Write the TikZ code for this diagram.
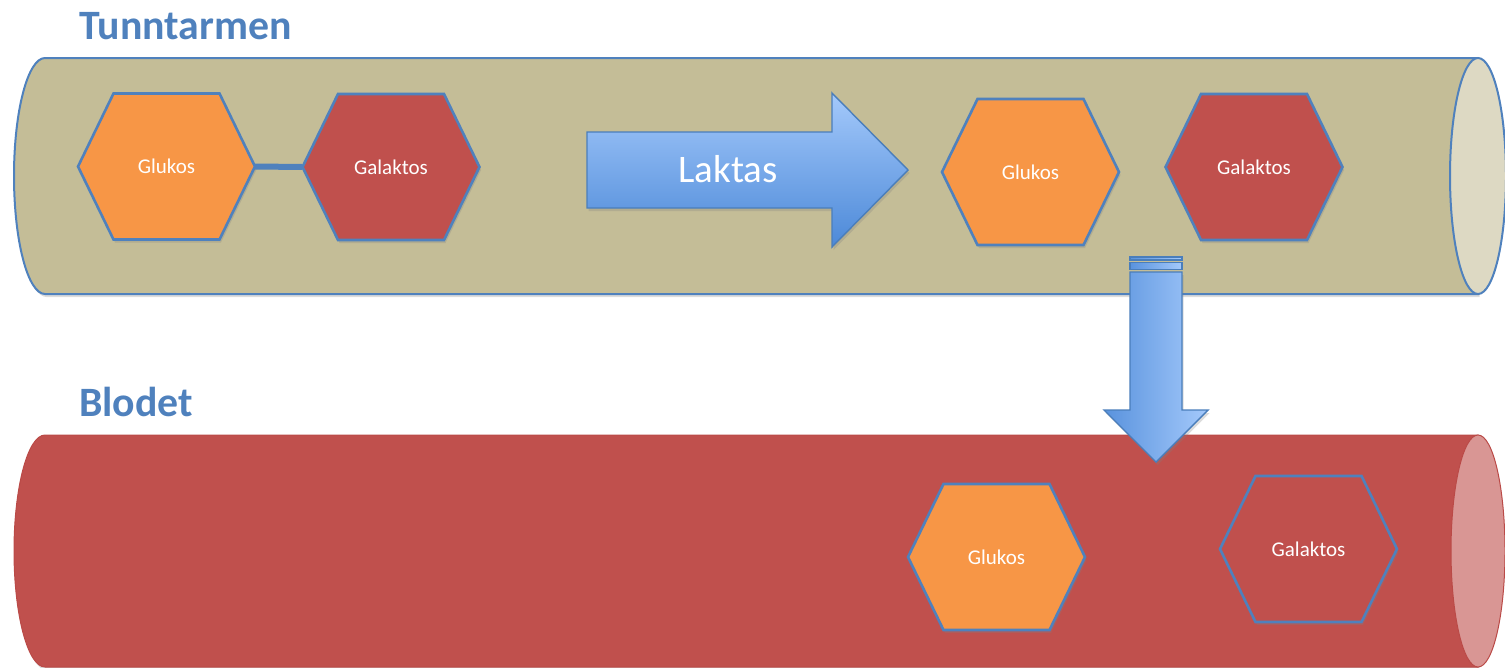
\documentclass[tikz,border=0pt]{standalone}
\usepackage{fontspec}
\setmainfont{Carlito}
\usetikzlibrary{shadows}

\definecolor{accent}{HTML}{4F81BD}
\definecolor{gutbody}{HTML}{C4BD97}
\definecolor{gutcap}{HTML}{DDD9C3}
\definecolor{bloodbody}{HTML}{C0504D}
\definecolor{bloodcap}{HTML}{D99694}
\definecolor{bloodedge}{HTML}{BA4A47}
\definecolor{sugarA}{HTML}{F79646}
\definecolor{arrowlight}{HTML}{A4C9FB}
\definecolor{arrowdark}{HTML}{4C89D8}
\definecolor{arrowedge}{HTML}{4A7EBB}

\tikzset{
  softshadow/.style={drop shadow={opacity=0.28, shadow xshift=1.5pt, shadow yshift=-3pt}},
  hexshape/.style={draw=accent, line width=2.6pt, line join=miter, softshadow},
  hexlabel/.style={shape=rectangle, minimum width=177pt, minimum height=146pt,
    inner sep=0pt, outer sep=0pt, text=white, font=\fontsize{21}{21}\selectfont},
  link/.style={draw=accent, line width=6pt},
  blockarrow/.style={draw=arrowedge, line width=1.4pt, line join=miter, softshadow},
  stripe/.style={draw=arrowedge, line width=1.1pt},
  heading/.style={anchor=base west, inner sep=0pt, text=accent,
    font=\fontsize{41.8}{42}\selectfont\bfseries},
}

% hexagonal sugar molecule: name, centre x, centre y, fill, label
\newcommand\sugarhex[5]{%
  \path[hexshape, fill=#4] (#2-88.5,#3) -- (#2-53,#3-73) -- (#2+53,#3-73)
    -- (#2+88.5,#3) -- (#2+53,#3+73) -- (#2-53,#3+73) -- cycle;
  \node[hexlabel] (#1) at (#2,#3) {#5};%
}

\begin{document}
\begin{tikzpicture}[x=1pt,y=-1pt]
\useasboundingbox (0,0) rectangle (1505,667);

% small intestine tube
\path[draw=accent, line width=2pt, fill=gutbody, softshadow]
  (1478,58) -- (45,58)
  .. controls (27.9,58) and (14,110.8) .. (14,176)
  .. controls (14,241.2) and (27.9,294) .. (45,294)
  -- (1478,294) -- cycle;
\path[draw=accent, line width=2pt, fill=gutcap] (1478,176) ellipse [x radius=28, y radius=118];

% blood vessel
\path[draw=bloodedge, line width=1pt, fill=bloodbody, softshadow]
  (1478,435) -- (45,435)
  .. controls (27.9,435) and (14,486.9) .. (14,551)
  .. controls (14,615.1) and (27.9,667) .. (45,667)
  -- (1478,667) -- cycle;
\path[draw=bloodedge, line width=1pt, fill=bloodcap] (1478,551) ellipse [x radius=27, y radius=116];

% bound lactose before the enzyme
\sugarhex{gluA}{166.5}{166.5}{sugarA}{Glukos}
\sugarhex{galA}{391}{167}{bloodbody}{Galaktos}
\draw[link] (gluA.east) -- (galA.west);

% free sugars after splitting
\sugarhex{gluB}{1030.5}{172}{sugarA}{Glukos}
\sugarhex{galB}{1254}{167}{bloodbody}{Galaktos}

% sugars taken up into the blood
\sugarhex{gluC}{996.5}{557}{sugarA}{Glukos}
\sugarhex{galC}{1308.5}{549}{bloodbody}{Galaktos}

% enzyme arrow
\path[blockarrow, top color=arrowlight, bottom color=arrowdark]
  (587,132) -- (832,132) -- (832,93) -- (908,170) -- (832,247)
  -- (832,208) -- (587,208) -- cycle;
\node[text=white, font=\fontsize{39}{39}\selectfont, inner sep=0pt] (enzyme) at (728,169.5) {Laktas};

% absorption arrow into the blood
\path[stripe, left color=arrowdark!85!arrowlight, right color=arrowlight] (1130,257) rectangle (1182,260);
\path[stripe, left color=arrowdark!85!arrowlight, right color=arrowlight] (1130,262.5) rectangle (1182,269.5);
\path[blockarrow, left color=arrowdark!85!arrowlight, right color=arrowlight]
  (1130,272) -- (1182,272) -- (1182,410) -- (1208,410) -- (1156,462)
  -- (1104,410) -- (1130,410) -- cycle;

% headings
\node[heading] (gutlabel) at (79,39) {Tunntarmen};
\node[heading] (bloodlabel) at (79,416) {Blodet};
\end{tikzpicture}
\end{document}
